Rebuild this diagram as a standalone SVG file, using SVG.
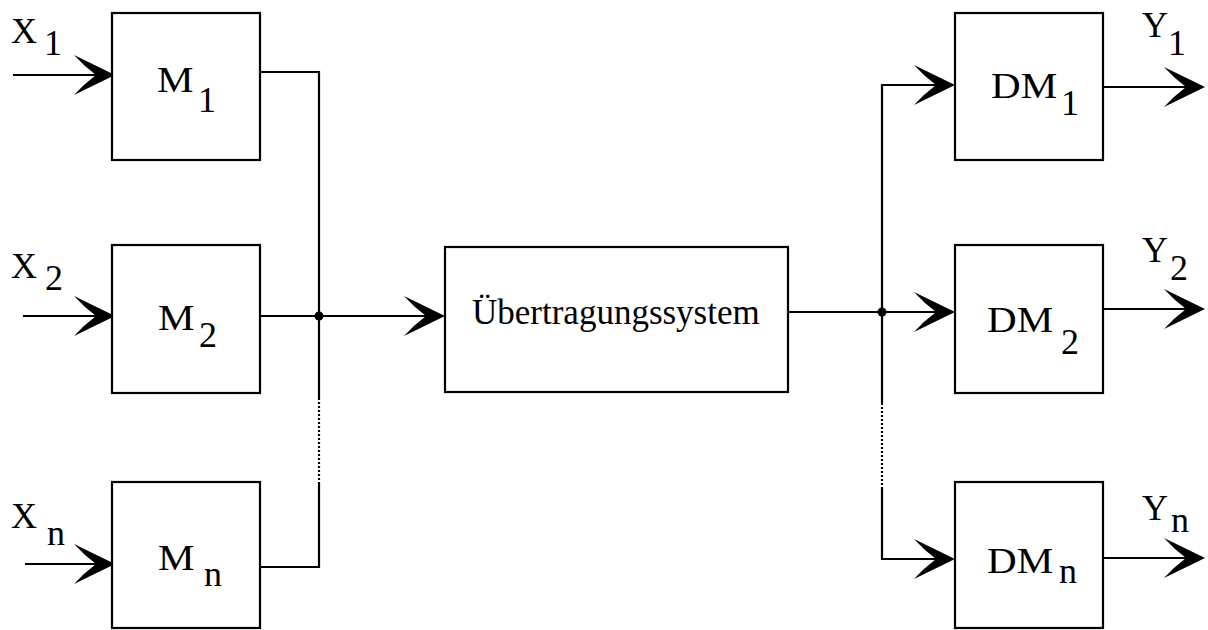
<svg xmlns="http://www.w3.org/2000/svg" width="1208" height="630" viewBox="0 0 1208 630">
<style>
.box{fill:#fff;stroke:#000;stroke-width:2.2}
.ln{fill:none;stroke:#000;stroke-width:2.2}
.dot{fill:none;stroke:#000;stroke-width:2.2;stroke-dasharray:2 2}
text{font-family:"Liberation Serif","Times New Roman",serif;fill:#000}
.t{font-size:36px}
.u{font-size:35px}
</style>
<defs>
<path id="ah" d="M0,0 L-41,-20 Q-31,-9 -19,0 Q-31,9 -41,20 Z" fill="#000"/>
</defs>
<rect width="1208" height="630" fill="#fff"/>
<g id="connectors">
<line class="ln" x1="13" y1="75" x2="100" y2="75"/>
<use href="#ah" transform="translate(115,75)"/>
<line class="ln" x1="23" y1="316" x2="100" y2="316"/>
<use href="#ah" transform="translate(115,316)"/>
<line class="ln" x1="25" y1="564" x2="100" y2="564"/>
<use href="#ah" transform="translate(115,564)"/>
<polyline class="ln" points="260,72 319,72 319,398"/>
<line class="dot" x1="319" y1="398" x2="319" y2="483"/>
<polyline class="ln" points="319,483 319,567 260,567"/>
<line class="ln" x1="260" y1="316" x2="430" y2="316"/>
<use href="#ah" transform="translate(445,316)"/>
<circle cx="319" cy="316" r="4.5" fill="#000"/>
<line class="ln" x1="788" y1="312" x2="940" y2="312"/>
<circle cx="882" cy="312" r="4.5" fill="#000"/>
<polyline class="ln" points="940,85 882,85 882,403"/>
<line class="dot" x1="882" y1="403" x2="882" y2="488"/>
<polyline class="ln" points="882,488 882,559 940,559"/>
<use href="#ah" transform="translate(955,85)"/>
<use href="#ah" transform="translate(955,312)"/>
<use href="#ah" transform="translate(955,559)"/>
<line class="ln" x1="1103" y1="87" x2="1190" y2="87"/>
<use href="#ah" transform="translate(1205,87)"/>
<line class="ln" x1="1103" y1="309" x2="1190" y2="309"/>
<use href="#ah" transform="translate(1205,309)"/>
<line class="ln" x1="1103" y1="558" x2="1190" y2="558"/>
<use href="#ah" transform="translate(1205,558)"/>
</g>
<g id="labels">
<text class="t" x="11" y="43">X</text>
<text class="t" x="44" y="55">1</text>
<text class="t" x="11" y="278">X</text>
<text class="t" x="45" y="290">2</text>
<text class="t" x="11" y="528">X</text>
<text class="t" x="47" y="545">n</text>
<text class="t" x="1142" y="37">Y</text>
<text class="t" x="1168" y="55">1</text>
<text class="t" x="1142" y="262">Y</text>
<text class="t" x="1170" y="280">2</text>
<text class="t" x="1142" y="520">Y</text>
<text class="t" x="1171" y="532">n</text>
</g>
<g id="M1">
<rect class="box" x="112" y="13" width="148" height="147"/>
<text class="t" transform="translate(157,92) scale(1.14,1)">M</text>
<text class="t" x="198" y="112">1</text>
</g>
<g id="M2">
<rect class="box" x="112" y="245" width="148" height="148"/>
<text class="t" transform="translate(158,330) scale(1.14,1)">M</text>
<text class="t" x="199" y="347">2</text>
</g>
<g id="Mn">
<rect class="box" x="112" y="482" width="148" height="146"/>
<text class="t" transform="translate(158,570) scale(1.14,1)">M</text>
<text class="t" x="204" y="586">n</text>
</g>
<g id="U">
<rect class="box" x="445" y="247" width="343" height="145"/>
<text class="u" x="472" y="324">Übertragungssystem</text>
</g>
<g id="DM1">
<rect class="box" x="955" y="13" width="148" height="147"/>
<text class="t" transform="translate(991,98) scale(1.14,1)">DM</text>
<text class="t" x="1061" y="115">1</text>
</g>
<g id="DM2">
<rect class="box" x="955" y="245" width="148" height="148"/>
<text class="t" transform="translate(987,332) scale(1.14,1)">DM</text>
<text class="t" x="1061" y="354">2</text>
</g>
<g id="DMn">
<rect class="box" x="955" y="482" width="148" height="146"/>
<text class="t" transform="translate(987,573) scale(1.14,1)">DM</text>
<text class="t" x="1059" y="583">n</text>
</g>
</svg>
